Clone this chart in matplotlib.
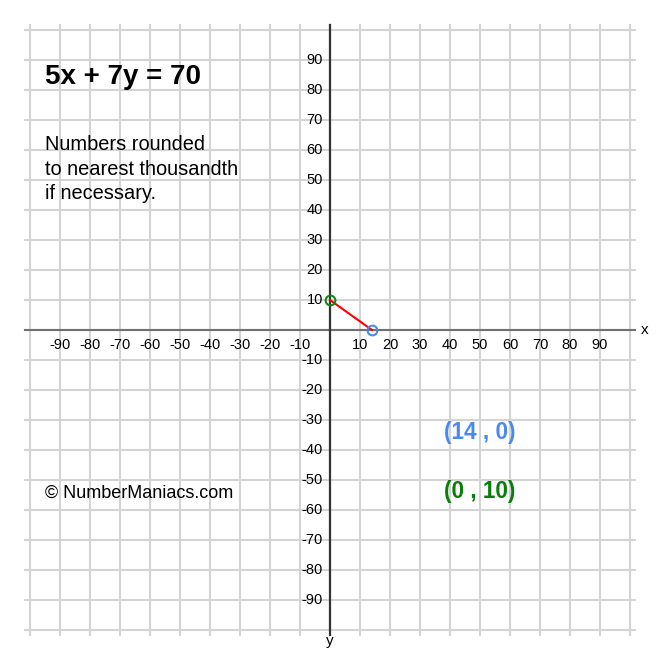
import matplotlib
matplotlib.use('Agg')
import matplotlib.pyplot as plt

# Data
equation = "5x + 7y = 70"
line_x = [0, 14]
line_y = [10, 0]
x_intercept = (14, 0)
y_intercept = (0, 10)
tick_values = [v for v in range(-90, 100, 10) if v != 0]
grid_values = list(range(-100, 110, 10))
note_lines = ['Numbers rounded', 'to nearest thousandth', 'if necessary.']

plt.rcParams['font.family'] = ['Liberation Sans', 'DejaVu Sans']

fig = plt.figure(figsize=(6.6, 6.6), dpi=100)
ax = fig.add_axes([0, 0, 1, 1])
ax.set_xlim(-110, 110)
ax.set_ylim(-110, 110)
ax.axis('off')

ext = 101.67
grid_color = '#d4d4d4'
for g in grid_values:
    ax.plot([g, g], [-ext, ext], color=grid_color, lw=1.5, zorder=1)
    ax.plot([-ext, ext], [g, g], color=grid_color, lw=1.5, zorder=1)

# axes
ax.plot([-ext, ext], [0, 0], color='#707070', lw=1.5, zorder=2)
ax.plot([0, 0], [-ext, ext], color='#333333', lw=1.6, zorder=2)
ax.text(105, 0, 'x', fontsize=11, ha='center', va='center')
ax.text(0, -103.5, 'y', fontsize=11, ha='center', va='center')

for v in tick_values:
    ax.text(v, -5, str(v), fontsize=10.5, ha='center', va='center', zorder=3)
    ax.text(-2.3, v, str(v), fontsize=10.5, ha='right', va='center', zorder=3)

# the line and its intercepts
ax.plot(line_x, line_y, color='red', lw=1.5, zorder=4)
ax.plot(*x_intercept, 'o', ms=7, mfc='none', mec='#4a8af0', mew=1.5, zorder=5)
ax.plot(*y_intercept, 'o', ms=7, mfc='none', mec='#118811', mew=1.5, zorder=5)

ax.text(-95, 84.3, equation, fontsize=20, fontweight='bold', ha='left', va='center')
for i, line in enumerate(note_lines):
    ax.text(-95, 60 - i * 8.2, line, fontsize=14.4, ha='left', va='baseline')
ax.text(-95, -54.3, '\u00a9 NumberManiacs.com', fontsize=13, ha='left', va='center')

ax.text(50, -34.3, '(%d , %d)' % x_intercept, fontsize=16.3, fontweight='bold',
        color='#4a8af0', ha='center', va='center')
ax.text(50, -53.7, '(%d , %d)' % y_intercept, fontsize=16.3, fontweight='bold',
        color='#0a7d0a', ha='center', va='center')

fig.savefig('out.png', dpi=100)
